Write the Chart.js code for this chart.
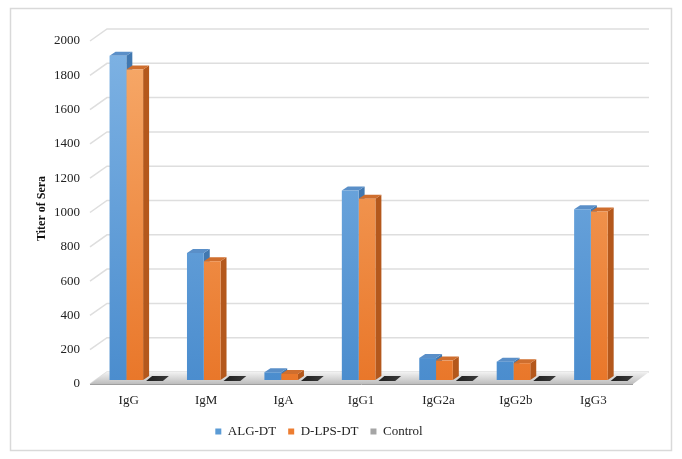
<!DOCTYPE html>
<html>
<head>
<meta charset="utf-8">
<script src="https://cdn.jsdelivr.net/npm/chart.js@4.4.1/dist/chart.umd.min.js"></script>
<style>
  html, body { margin: 0; padding: 0; background: #fff; }
</style>
</head>
<body>
<canvas id="myChart" width="682" height="459"></canvas>
<script>
    // Datos del gráfico
    const categorias = ['IgG', 'IgM', 'IgA', 'IgG1', 'IgG2a', 'IgG2b', 'IgG3'];
    const algDT = [1890, 740, 45, 1105, 128, 107, 995];
    const dlpsDT = [1810, 692, 35, 1057, 113, 98, 982];
    const control = [0, 0, 0, 0, 0, 0, 0];
    const nombresSeries = ['ALG-DT', 'D-LPS-DT', 'Control'];
    const coloresSeries = ['#5b9bd5', '#ed7d31', '#a5a5a5'];
    const yMin = 0, yMax = 2000, yPaso = 200;

    const fuente = "'Liberation Serif', 'Times New Roman', serif";
    Chart.defaults.font.family = fuente;
    const prof = { dx: 6, dy: 4 };   // profundidad de las barras
    const pared = { dx: 17, dy: 12 }; // profundidad del suelo / paredes

    function degradado(ctx, arriba, abajo) {
      const area = ctx.chart.chartArea;
      if (!area) return arriba;
      const g = ctx.chart.ctx.createLinearGradient(0, area.top, 0, area.bottom);
      g.addColorStop(0, arriba);
      g.addColorStop(1, abajo);
      return g;
    }

    function poligono(ctx, pts, color) {
      ctx.beginPath();
      ctx.moveTo(pts[0][0], pts[0][1]);
      for (let i = 1; i < pts.length; i++) ctx.lineTo(pts[i][0], pts[i][1]);
      ctx.closePath();
      ctx.fillStyle = color;
      ctx.fill();
    }

    // Plugin para el marco, la rejilla en perspectiva, el suelo y las caras 3D
    const tresD = {
      id: 'tresD',
      beforeDraw(chart) {
        const ctx = chart.ctx;
        ctx.save();
        ctx.fillStyle = '#fff';
        ctx.fillRect(0, 0, chart.width, chart.height);
        ctx.strokeStyle = '#d9d9d9';
        ctx.lineWidth = 1.5;
        ctx.strokeRect(10.5, 8.5, chart.width - 21, chart.height - 17);
        ctx.restore();
      },
      beforeDatasetsDraw(chart) {
        const { ctx, chartArea } = chart;
        const y = chart.scales.y;
        const frenteIzq = chartArea.left - 6;
        const fondoIzq = frenteIzq + pared.dx;
        const fondoDer = chartArea.right + 11;
        ctx.save();

        // rejilla: pared izquierda + pared del fondo
        ctx.strokeStyle = '#dedede';
        ctx.lineWidth = 1.5;
        y.ticks.forEach(t => {
          const py = y.getPixelForValue(t.value);
          ctx.beginPath();
          ctx.moveTo(frenteIzq, py + 4);
          ctx.lineTo(fondoIzq, py + 4 - pared.dy);
          ctx.lineTo(fondoDer, py + 4 - pared.dy);
          ctx.stroke();
        });

        // suelo
        const base = y.getPixelForValue(0);
        const sg = ctx.createLinearGradient(0, base - 8, 0, base + 4);
        sg.addColorStop(0, '#f2f2f2');
        sg.addColorStop(1, '#bdbdbd');
        poligono(ctx, [
          [frenteIzq, base + 4],
          [chartArea.right - 5, base + 4],
          [fondoDer, base + 4 - pared.dy],
          [fondoIzq, base + 4 - pared.dy]
        ], sg);
        ctx.strokeStyle = '#9e9e9e';
        ctx.lineWidth = 1;
        ctx.beginPath();
        ctx.moveTo(frenteIzq, base + 4.5);
        ctx.lineTo(chartArea.right - 5, base + 4.5);
        ctx.stroke();

        // caras laterales y superiores
        const lados = ['#4178b0', '#b4581c'];
        const tapas = ['#5a8fc8', '#cf6e2e'];
        [0, 1].forEach(d => {
          chart.getDatasetMeta(d).data.forEach(el => {
            const { x, y: top, base: b, width: w } = el.getProps(['x', 'y', 'base', 'width'], true);
            const r = x + w / 2, l = x - w / 2;
            poligono(ctx, [[r, top], [r + prof.dx, top - prof.dy], [r + prof.dx, b - prof.dy], [r, b]], lados[d]);
            poligono(ctx, [[l, top], [l + prof.dx, top - prof.dy], [r + prof.dx, top - prof.dy], [r, top]], tapas[d]);
          });
        });

        // Control: placas oscuras sobre el suelo
        chart.getDatasetMeta(2).data.forEach(el => {
          const { x, base: b, width: w } = el.getProps(['x', 'base', 'width'], true);
          const l = x - w / 2 + 3, r = x + w / 2 + 3;
          const cg = ctx.createLinearGradient(l, 0, r + prof.dx, 0);
          cg.addColorStop(0, '#1e1e1e');
          cg.addColorStop(1, '#3a3a3a');
          poligono(ctx, [[l, b + 1], [r, b + 1], [r + prof.dx, b - 4], [l + prof.dx, b - 4]], cg);
        });
        ctx.restore();
      }
    };

    const ctx = document.getElementById('myChart').getContext('2d');

    const myChart = new Chart(ctx, {
      type: 'bar',
      data: {
        labels: categorias,
        datasets: [{
          label: nombresSeries[0],
          data: algDT,
          backgroundColor: c => degradado(c, '#7fb3e4', '#4b8dce'),
          borderWidth: 0
        }, {
          label: nombresSeries[1],
          data: dlpsDT,
          backgroundColor: c => degradado(c, '#f7ab6c', '#e9772a'),
          borderWidth: 0
        }, {
          label: nombresSeries[2],
          data: control,
          backgroundColor: coloresSeries[2],
          borderWidth: 0
        }]
      },
      options: {
        responsive: false,
        animation: false,
        devicePixelRatio: 1,
        layout: { padding: { top: 37, left: 0, right: 44, bottom: 11 } },
        datasets: { bar: { categoryPercentage: 0.65, barPercentage: 1 } },
        plugins: {
          tooltip: { enabled: false },
          legend: {
            position: 'bottom',
            labels: {
              boxWidth: 6,
              boxHeight: 6,
              padding: 12,
              color: '#222',
              font: { family: fuente, size: 13 },
              generateLabels: () => nombresSeries.map((n, i) => ({
                text: n, fillStyle: coloresSeries[i], strokeStyle: coloresSeries[i],
                fontColor: '#222', lineWidth: 0, datasetIndex: i, hidden: false
              }))
            }
          }
        },
        scales: {
          x: {
            grid: { display: false, drawTicks: false },
            border: { display: false },
            ticks: { color: '#222', font: { family: fuente, size: 13 }, padding: 13, labelOffset: -6 },
            afterFit: s => { s.height = 33; }
          },
          y: {
            min: yMin,
            max: yMax,
            grid: { display: false, drawTicks: false },
            border: { display: false },
            ticks: {
              stepSize: yPaso, color: '#222', font: { family: fuente, size: 13 }, padding: 16, labelOffset: 4,
              callback: v => String(v)
            },
            title: {
              display: true,
              text: 'Titer of Sera',
              color: '#111',
              font: { family: fuente, size: 12, weight: 'bold' },
              padding: { top: 35, bottom: 0 }
            },
            afterFit: s => { s.width = 96; }
          }
        }
      },
      plugins: [tresD]
    });
</script>
</body>
</html>
